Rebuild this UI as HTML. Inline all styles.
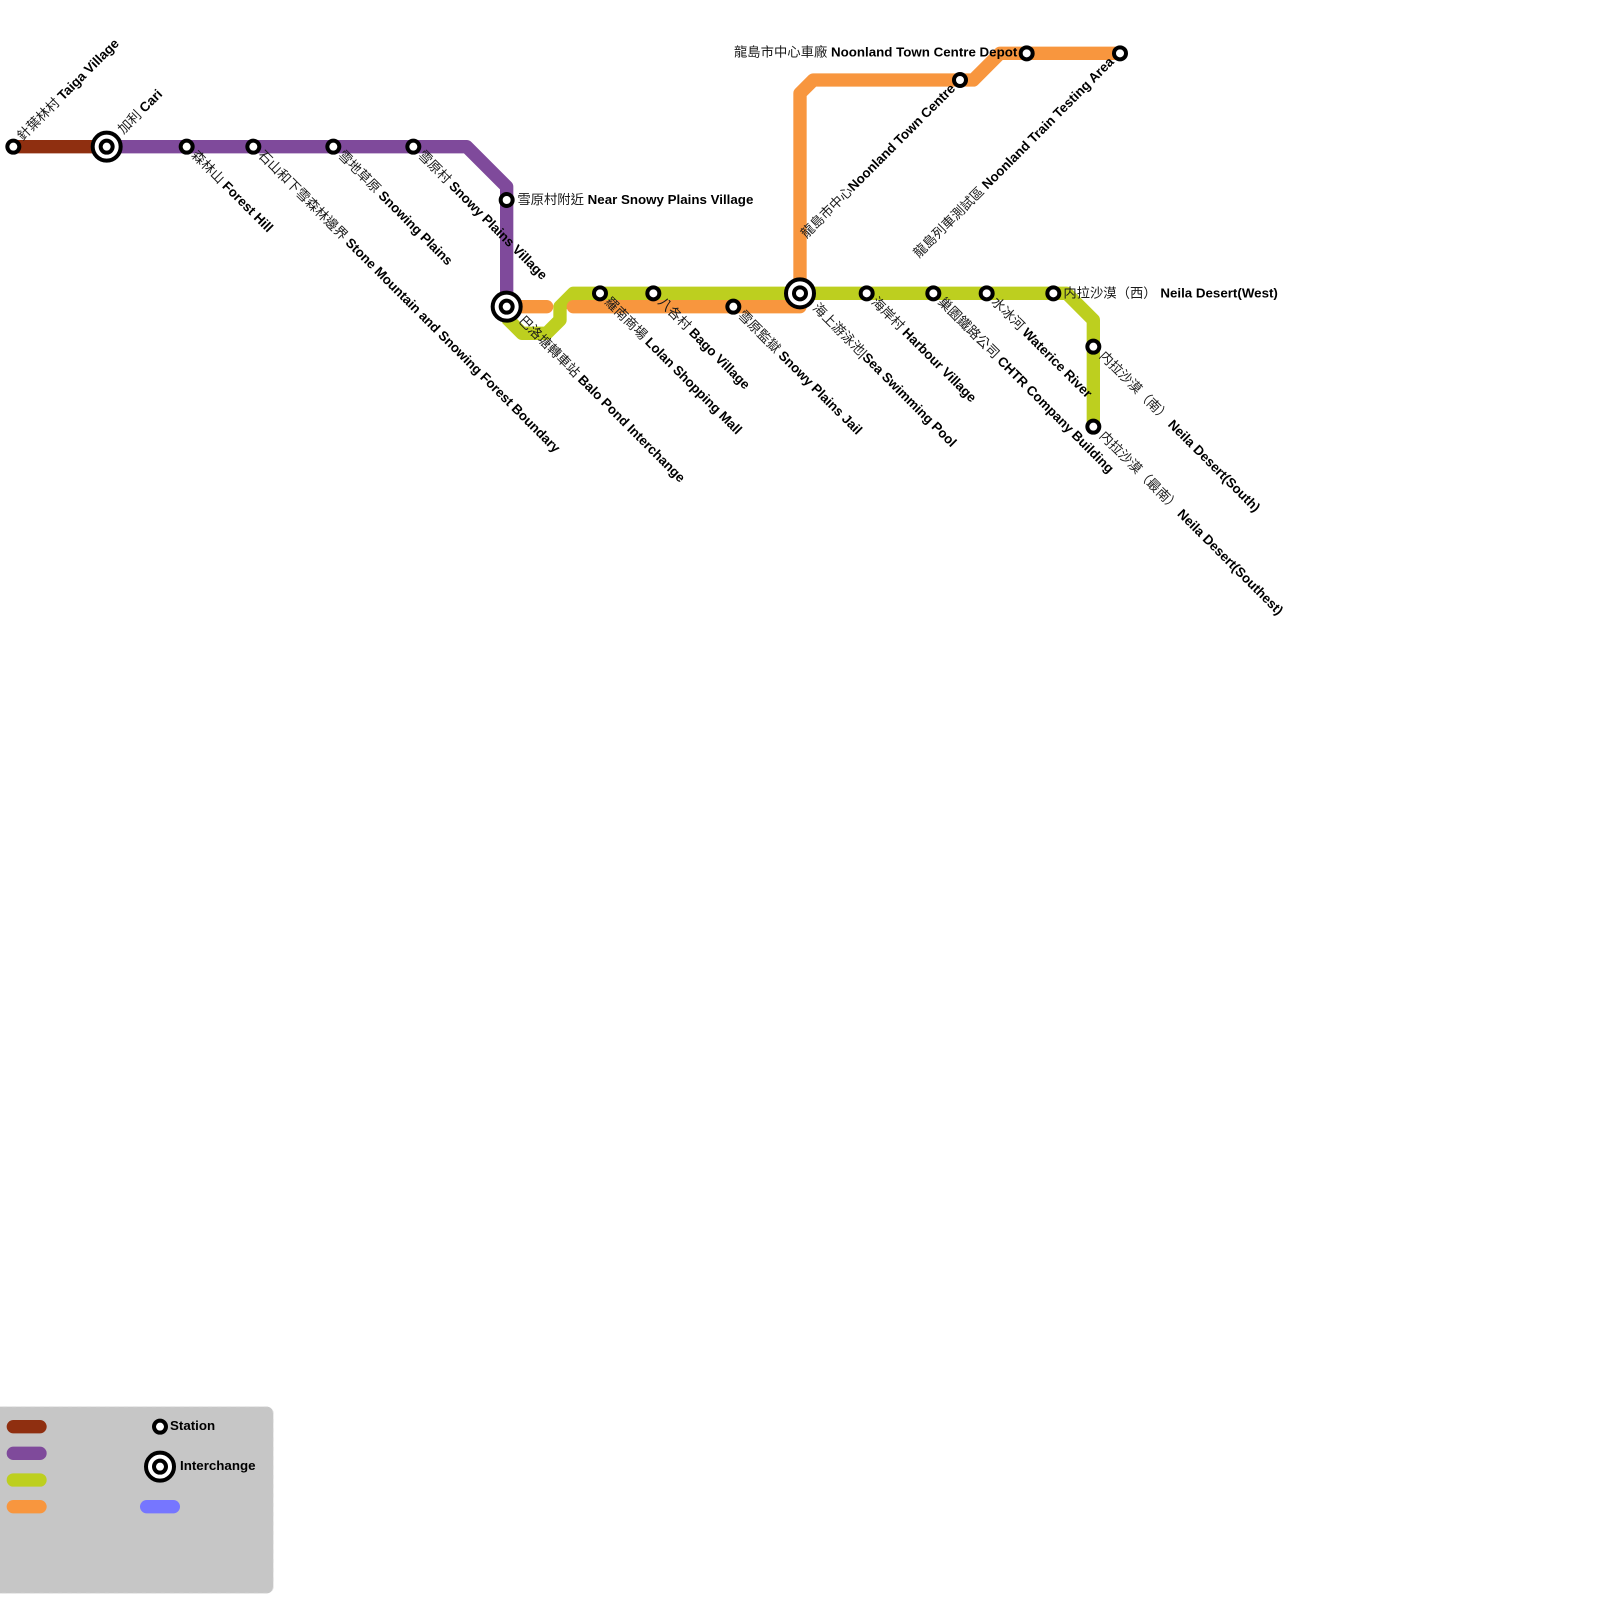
<!DOCTYPE html>
<html><head><meta charset="utf-8"><style>
html,body{margin:0;padding:0;background:#fff}
svg{display:block}
text{font-family:"Liberation Sans","Noto Sans CJK TC",sans-serif;font-size:10px;fill:#1a1a1a;white-space:pre}
.b{font-weight:bold;fill:#000}
.l{fill:none;stroke-width:10;stroke-linejoin:round}
.s{fill:#fff;stroke:#000;stroke-width:3}
</style></head><body>
<svg xmlns="http://www.w3.org/2000/svg" width="1600" height="1600" viewBox="0 0 1200 1200">
<rect width="1200" height="1200" fill="#fff"/>
<rect x="-10" y="1055" width="215" height="140" rx="5" fill="#c6c6c6" stroke="#e0e0e0" stroke-width="0.6" stroke-dasharray="3 4"/>
<path class="l" stroke="#8f2f10" d="M10,110H80"/>
<path class="l" stroke="#7f4a9b" d="M80,110H350L380,140V230"/>
<path class="l" stroke="#bdcf1f" d="M380,238.5L391.5,250H410L420,240V230L430,220H800L820,240V320"/>
<path class="l" stroke="#f8963e" stroke-linecap="round" d="M380,230H410"/>
<path class="l" stroke="#f8963e" stroke-linecap="round" d="M430,230H600V70L610,60H730L750,40H840"/>
<g class="s">
<circle cx="10" cy="110" r="4.5"/><circle cx="140" cy="110" r="4.5"/><circle cx="190" cy="110" r="4.5"/><circle cx="250" cy="110" r="4.5"/><circle cx="310" cy="110" r="4.5"/>
<circle cx="380" cy="150" r="4.5"/><circle cx="450" cy="220" r="4.5"/><circle cx="490" cy="220" r="4.5"/><circle cx="550" cy="230" r="4.5"/>
<circle cx="650" cy="220" r="4.5"/><circle cx="700" cy="220" r="4.5"/><circle cx="740" cy="220" r="4.5"/><circle cx="790" cy="220" r="4.5"/>
<circle cx="820" cy="260" r="4.5"/><circle cx="820" cy="320" r="4.5"/><circle cx="720" cy="60" r="4.5"/><circle cx="770" cy="40" r="4.5"/><circle cx="840" cy="40" r="4.5"/>
<circle cx="80" cy="110" r="10.5"/><circle cx="80" cy="110" r="4.5"/>
<circle cx="380" cy="230" r="10.5"/><circle cx="380" cy="230" r="4.5"/>
<circle cx="600" cy="220" r="10.5"/><circle cx="600" cy="220" r="4.5"/>
<circle cx="120" cy="1070" r="4.5"/><circle cx="120" cy="1100" r="10.5"/><circle cx="120" cy="1100" r="4.5"/>
</g>
<text transform="translate(17,106) rotate(-45)">針葉林村 <tspan class="b">Taiga Village</tspan></text>
<text transform="translate(92.5,101) rotate(-45)">加利 <tspan class="b">Cari</tspan></text>
<text transform="translate(143,117) rotate(45)">森林山 <tspan class="b">Forest Hill</tspan></text>
<text transform="translate(193,117) rotate(45)">石山和下雪森林邊界 <tspan class="b">Stone Mountain and Snowing Forest Boundary</tspan></text>
<text transform="translate(253,117) rotate(45)">雪地草原 <tspan class="b">Snowing Plains</tspan></text>
<text transform="translate(313,117) rotate(45)">雪原村 <tspan class="b">Snowy Plains Village</tspan></text>
<text x="388" y="153">雪原村附近 <tspan class="b">Near Snowy Plains Village</tspan></text>
<text transform="translate(388.5,241) rotate(45)">巴洛塘轉車站 <tspan class="b">Balo Pond Interchange</tspan></text>
<text transform="translate(453,227) rotate(45)">羅南商場 <tspan class="b">Lolan Shopping Mall</tspan></text>
<text transform="translate(493,227) rotate(45)">八各村 <tspan class="b">Bago Village</tspan></text>
<text transform="translate(553,237) rotate(45)">雪原監獄 <tspan class="b">Snowy Plains Jail</tspan></text>
<text transform="translate(609,231.5) rotate(45)">海上游泳池|<tspan class="b">Sea Swimming Pool</tspan></text>
<text transform="translate(653,227) rotate(45)">海岸村 <tspan class="b">Harbour Village</tspan></text>
<text transform="translate(703,227) rotate(45)">巢園鐵路公司 <tspan class="b">CHTR Company Building</tspan></text>
<text transform="translate(743,227) rotate(45)">水冰河 <tspan class="b">Waterice River</tspan></text>
<text x="797.5" y="223">内拉沙漠（西） <tspan class="b">Neila Desert(West)</tspan></text>
<text transform="translate(824,267.5) rotate(45)">内拉沙漠（南） <tspan class="b">Neila Desert(South)</tspan></text>
<text transform="translate(824,327.5) rotate(45)">内拉沙漠（最南） <tspan class="b">Neila Desert(Southest)</tspan></text>
<text text-anchor="end" transform="translate(717,67) rotate(-45)">龍島市中心<tspan class="b">Noonland Town Centre</tspan></text>
<text text-anchor="end" x="763" y="42.5">龍島市中心車廠 <tspan class="b">Noonland Town Centre Depot</tspan></text>
<text text-anchor="end" transform="translate(836,47) rotate(-45)">龍島列車測試區 <tspan class="b">Noonland Train Testing Area</tspan></text>
<path stroke="#8f2f10" stroke-width="10" stroke-linecap="round" d="M10,1070H30"/>
<path stroke="#7f4a9b" stroke-width="10" stroke-linecap="round" d="M10,1090H30"/>
<path stroke="#bdcf1f" stroke-width="10" stroke-linecap="round" d="M10,1110H30"/>
<path stroke="#f8963e" stroke-width="10" stroke-linecap="round" d="M10,1130H30"/>
<path stroke="#7676ff" stroke-width="10" stroke-linecap="round" d="M110,1130H130"/>
<text class="b" x="127.5" y="1072.5">Station</text>
<text class="b" x="135" y="1102.5">Interchange</text>
</svg>
</body></html>
